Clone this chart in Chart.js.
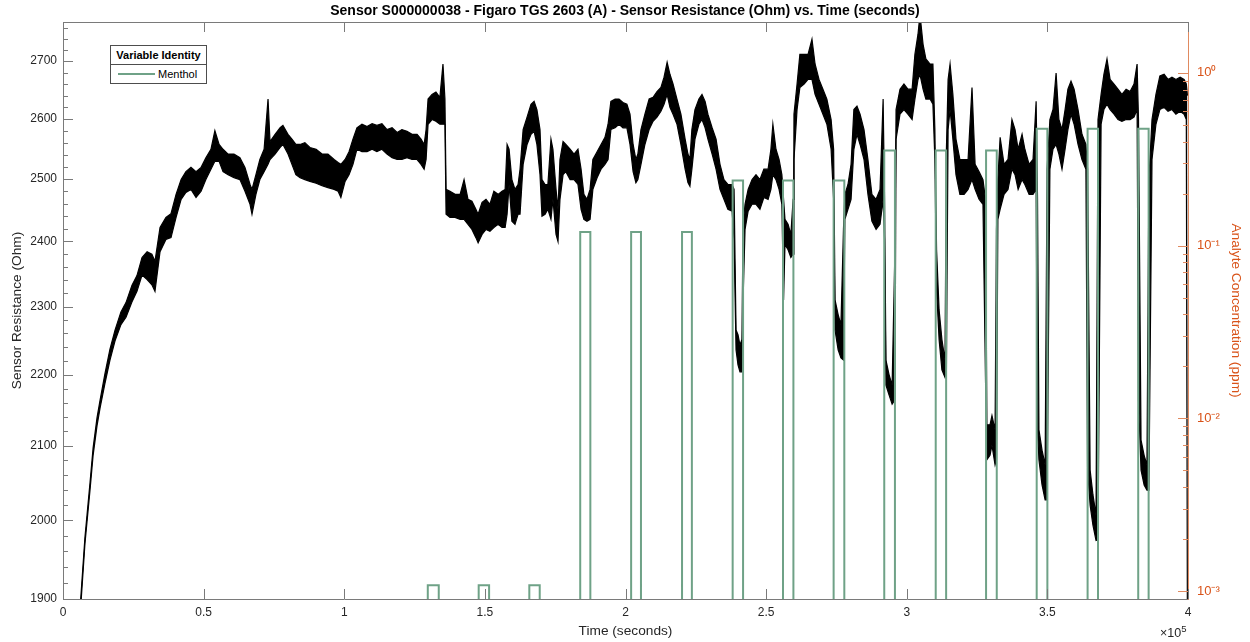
<!DOCTYPE html>
<html>
<head>
<meta charset="utf-8">
<script src="https://cdn.jsdelivr.net/npm/chart.js@4.4.1/dist/chart.umd.min.js"></script>
<style>
  html, body { margin: 0; padding: 0; background: #fff; }
  #wrap { position: relative; width: 1250px; height: 642px; font-family: 'Liberation Sans', Arial, sans-serif; }
  #legend { position: absolute; left: 110px; top: 45px; width: 95px; border: 1px solid #4d4d4d; background: #fff; font-size: 11px; color: #000; }
  #legend .lg-title { font-weight: bold; text-align: center; height: 18px; line-height: 19px; border-bottom: 1px solid #4d4d4d; }
  #legend .lg-row { height: 18px; display: flex; align-items: center; }
  #legend .lg-swatch { display: inline-block; width: 37px; height: 2px; background: #6fa287; margin: 0 3px 0 7px; }
  #xexp { position: absolute; left: 1160px; top: 623px; font-size: 12.5px; color: #262626; }
  #xexp sup { font-size: 9.5px; }
</style>
</head>
<body>
<div id="wrap">
  <canvas id="sensorChart"></canvas>
  <div id="legend">
    <div class="lg-title">Variable Identity</div>
    <div class="lg-row"><span class="lg-swatch"></span><span>Menthol</span></div>
  </div>
  <div id="xexp">&times;10<sup>5</sup></div>
</div>
<script>
// sensor trace: time (s), upper and lower edge of the noisy band (Ohm)
const sampleTime = [
  6200, 7800, 9600, 10700, 12100, 13200, 14900, 16700, 18500, 20600, 22400, 24500, 26300, 28100, 29900, 31600, 32700,
  34500, 36600, 38400, 40200, 42000, 43700, 45500, 47300, 49100, 50800, 52600, 54000, 55500, 56900, 58700, 60800,
  62900, 64700, 66500, 67200, 68600, 70000, 71500, 72900, 73600, 75400, 77200, 78200, 80000, 81400, 82800,
  84300, 86000, 87800, 90000, 92100, 94200, 96400, 97800, 98800, 100300, 101700, 103100, 104500, 106300, 108100,
  109900, 111600, 113400, 115200, 117000, 118800, 120500, 122300, 124100, 125900, 127300, 128400, 129100, 129800,
  131200, 132600, 134000, 135100, 135800, 136200, 137600, 139400, 141200, 142600, 144000, 145400, 146800, 147600,
  149000, 150400, 151800, 153200, 154700, 156100, 157200, 157900, 158600, 159600, 160700, 161800,
  162500, 163600, 165000, 166400, 167500, 168500, 169600, 170300, 171400, 172400, 173500, 174200, 175300, 176000,
  176700, 177800, 178800, 180300, 181700, 183100, 184200, 185200, 186300, 187400, 188400, 189900, 191300, 192700,
  193800, 194800, 196300, 197700, 199100, 200500, 201600, 202700, 203700, 204400, 205500, 206900, 208400, 209800,
  211200, 212600, 213700, 214800, 215800, 216900, 218300, 219700, 221200, 222200, 222900, 223600, 224700, 226100,
  227200, 228300, 229300, 230800, 232200, 233600, 235000, 236400, 237900, 238600, 239300, 240000, 240700, 241400,
  241800, 242500, 243600,
  245000, 246400, 247800, 249200, 250700, 251700, 252400, 253500, 254600, 255600, 256200, 256700, 257800, 258800,
  259600, 259900, 261000, 262000, 263500, 264900, 266300, 267400, 268800, 270200, 271600, 273100, 274000, 274500,
  275600, 276600, 277500, 278000, 279100, 280200, 281200, 282300, 283400, 284800, 286200, 287600, 289100, 290500,
  291600, 292100, 292600, 293700, 294800, 295800, 296200, 297600, 299000, 300400, 301900, 302900, 304000, 304700,
  305800, 306800, 308300, 309300, 310000, 310600, 311500, 312500, 313600, 314100, 314700, 315400, 316400, 317500,
  318900,
  320400, 321800, 323200, 324300, 325700, 327100, 328000, 328500, 329600, 330300, 331400, 331900, 332400, 333200,
  334600, 336000, 337400, 338500, 339600, 341000, 342000, 343500, 344900, 346000, 346500, 347000, 348100, 349200,
  349900, 350900, 352000, 353100, 354100, 355200, 356300, 357300, 358400, 359500, 360900, 362300, 363700, 364300,
  365200, 366200, 367300, 368000, 369100, 370100, 371200, 372300, 373700, 375100, 376500, 378000, 379400, 380800,
  381900, 382400, 383300, 384400, 385400, 386100, 387200, 388600, 390000, 391500, 392900, 394300, 395700, 397200,
  398600, 399400, 399800
];
const resistanceHigh = [
  1895, 1978, 2050, 2097, 2139, 2164, 2201, 2237, 2265, 2292, 2306, 2332, 2347, 2375, 2384, 2380, 2369,
  2422, 2438, 2444, 2475, 2499, 2512, 2519, 2512, 2519, 2535, 2549, 2580, 2557, 2549, 2541, 2541,
  2535, 2519, 2491, 2483, 2507, 2532, 2549, 2634, 2562, 2574, 2585, 2589, 2574, 2566, 2557,
  2557, 2560, 2552, 2549, 2541, 2541, 2532, 2527, 2524, 2532, 2545, 2566, 2585, 2591, 2587,
  2592, 2589, 2592, 2582, 2585, 2577, 2582, 2579, 2574, 2574, 2566, 2557, 2582, 2634,
  2642, 2646, 2637, 2695, 2634, 2483, 2480, 2475, 2475, 2499, 2467, 2464, 2451, 2443,
  2462, 2467, 2459, 2480, 2475, 2480, 2483, 2557, 2549, 2499, 2483, 2491,
  2516, 2582, 2603, 2625, 2630, 2616, 2582, 2499, 2491, 2491, 2566, 2549, 2483, 2451,
  2532, 2562, 2557, 2549, 2541, 2549, 2516, 2475, 2467, 2483, 2532, 2545, 2557, 2569,
  2591, 2630, 2634, 2634, 2628, 2625, 2608, 2557, 2532, 2541, 2582, 2608, 2634, 2637,
  2647, 2654, 2672, 2698, 2677, 2660, 2634, 2608, 2566, 2541, 2532, 2582, 2616, 2634,
  2642, 2630, 2608, 2585, 2566, 2524, 2499, 2491, 2491, 2483, 2265, 2258, 2243, 2251,
  2427, 2459, 2483,
  2499, 2507, 2499, 2516, 2516, 2549, 2591, 2549, 2532, 2507, 2467, 2435, 2427, 2411,
  2467, 2608, 2660, 2712, 2712, 2712, 2739, 2695, 2668, 2651, 2634, 2599, 2549, 2310,
  2288, 2273, 2419, 2475, 2491, 2524, 2616, 2622, 2608, 2582, 2532, 2475, 2467, 2483,
  2634, 2467, 2221, 2200, 2185, 2387, 2616, 2651, 2660, 2651, 2651, 2712, 2748, 2784,
  2730, 2704, 2695, 2695, 2582, 2387, 2295, 2251, 2221, 2549, 2668, 2695, 2642, 2566,
  2532,
  2532, 2532, 2654, 2524, 2512, 2499, 2467, 2129, 2129, 2142, 2122, 2419, 2499, 2569,
  2524, 2532, 2599, 2582, 2549, 2574, 2549, 2524, 2532, 2630, 2467, 2122, 2094, 2074,
  2516, 2599, 2616, 2679, 2599, 2582, 2616, 2651, 2665, 2651, 2616, 2574, 2557, 2516,
  2067, 2034, 2007, 2599, 2642, 2677, 2704, 2668, 2660, 2651, 2642, 2651, 2647, 2660,
  2695, 2599, 2108, 2087, 2074, 2499, 2599, 2642, 2674, 2677, 2668, 2672, 2668, 2672,
  2668, 2660, 2640
];
const resistanceLow = [
  1885, 1970, 2040, 2087, 2128, 2153, 2187, 2221, 2249, 2273, 2284, 2307, 2323, 2348, 2341, 2333, 2323,
  2384, 2403, 2406, 2438, 2467, 2478, 2483, 2470, 2480, 2499, 2516, 2529, 2529, 2512, 2507, 2502,
  2499, 2480, 2459, 2443, 2475, 2499, 2512, 2524, 2532, 2541, 2552, 2557, 2541, 2524, 2507,
  2502, 2499, 2496, 2493, 2489, 2486, 2483, 2480, 2470, 2496, 2507, 2524, 2549, 2545, 2545,
  2549, 2545, 2549, 2541, 2535, 2532, 2532, 2535, 2532, 2532, 2524, 2516, 2532, 2591,
  2599, 2596, 2591, 2591, 2591, 2443, 2438, 2438, 2435, 2435, 2427, 2419, 2406, 2398,
  2411, 2419, 2416, 2422, 2427, 2422, 2422, 2443, 2491, 2432, 2427, 2443,
  2443, 2524, 2557, 2574, 2579, 2557, 2507, 2440, 2443, 2451, 2435, 2467, 2411, 2400,
  2467, 2507, 2512, 2499, 2499, 2491, 2451, 2435, 2432, 2435, 2483, 2502, 2516, 2524,
  2532, 2582, 2585, 2591, 2585, 2585, 2557, 2512, 2494, 2499, 2524, 2557, 2582, 2596,
  2603, 2613, 2625, 2642, 2620, 2608, 2591, 2557, 2516, 2494, 2488, 2516, 2566, 2591,
  2599, 2585, 2566, 2541, 2516, 2483, 2467, 2451, 2448, 2403, 2236, 2214, 2204, 2204,
  2310, 2419, 2448,
  2459, 2459, 2451, 2470, 2467, 2483, 2507, 2499, 2483, 2459, 2310, 2395, 2387, 2375,
  2380, 2532, 2616, 2654, 2660, 2668, 2668, 2642, 2625, 2608, 2591, 2549, 2467, 2265,
  2236, 2224, 2221, 2435, 2451, 2467, 2549, 2574, 2557, 2532, 2475, 2432, 2419, 2427,
  2467, 2403, 2185, 2171, 2158, 2164, 2566, 2608, 2616, 2608, 2599, 2634, 2668, 2677,
  2651, 2634, 2634, 2625, 2532, 2326, 2251, 2207, 2196, 2207, 2582, 2616, 2566, 2507,
  2475,
  2475, 2483, 2499, 2483, 2467, 2459, 2193, 2081, 2087, 2101, 2074, 2081, 2435, 2451,
  2475, 2483, 2516, 2507, 2483, 2499, 2491, 2475, 2475, 2483, 2122, 2081, 2047, 2027,
  2027, 2516, 2549, 2557, 2541, 2516, 2549, 2582, 2608, 2591, 2557, 2532, 2516, 2067,
  2020, 1994, 1974, 1975, 2591, 2616, 2625, 2616, 2608, 2599, 2596, 2599, 2599, 2603,
  2616, 2164, 2067, 2047, 2040, 2040, 2532, 2591, 2616, 2620, 2613, 2616, 2608, 2613,
  2608, 2599, 1850
];

// menthol exposure steps (s, ppm)
const pulseStart = [129700, 147800, 165800, 183900, 202000, 220100, 238100, 256000, 274000, 292000, 310300, 328200, 346200, 364300, 382300];
const pulseEnd   = [133600, 151500, 169500, 187500, 205500, 223600, 241800, 259700, 277800, 295800, 314000, 332000, 350000, 368000, 386000];
const pulseLevel = [0.00108, 0.00108, 0.00108, 0.12, 0.12, 0.12, 0.238, 0.238, 0.238, 0.355, 0.355, 0.355, 0.474, 0.474, 0.474];
const pulseBase = 0.0005; // zero concentration sits below the log axis floor

// axis ticks
const xTicks = [0, 50000, 100000, 150000, 200000, 250000, 300000, 350000, 400000];
const leftTicks = [1900, 2000, 2100, 2200, 2300, 2400, 2500, 2600, 2700];
const rightTicks = [0.001, 0.01, 0.1, 1];
const rightTickLabels = ['10\u207B\u00B3', '10\u207B\u00B2', '10\u207B\u00B9', '10\u2070'];

const leftMin = 1900, leftMax = 2770;
const rightMin = 0.0009, rightMax = 1.97;

const green = '#6fa287';
const orange = '#D95319';
const orangeLine = '#e08a60';
const axisGray = '#7a7a7a';
const textGray = '#262626';

// minor ticks (20 Ohm steps on the left, 2..9 per decade on the right)
const leftMinor = [];
for (let v = 1920; v <= 2760; v += 20) if (v % 100 !== 0) leftMinor.push(v);
const rightMinor = [];
[0.001, 0.01, 0.1].forEach(d => { for (let m = 2; m <= 9; m++) rightMinor.push(m * d); });

// build datasets
const upperPts = sampleTime.map((t, i) => ({ x: t, y: resistanceHigh[i] }));
const lowerPts = sampleTime.map((t, i) => ({ x: t, y: resistanceLow[i] }));

const pulsePts = [{ x: 0, y: pulseBase }];
pulseStart.forEach((s, i) => {
  pulsePts.push({ x: s, y: pulseBase }, { x: s, y: pulseLevel[i] }, { x: pulseEnd[i], y: pulseLevel[i] }, { x: pulseEnd[i], y: pulseBase });
});
pulsePts.push({ x: 400000, y: pulseBase });

// MATLAB style inward tick marks + top box line
const inwardTicks = {
  id: 'inwardTicks',
  afterDatasetsDraw(chart) {
    const { ctx, chartArea: a, scales } = chart;
    ctx.save();
    ctx.lineWidth = 1;
    ctx.strokeStyle = axisGray;
    ctx.beginPath();
    ctx.moveTo(a.left, a.top + 0.5);
    ctx.lineTo(a.right, a.top + 0.5);
    xTicks.forEach(v => {
      const px = Math.round(scales.x.getPixelForValue(v)) + 0.5;
      ctx.moveTo(px, a.bottom); ctx.lineTo(px, a.bottom - 10);
      ctx.moveTo(px, a.top); ctx.lineTo(px, a.top + 10);
    });
    leftTicks.forEach(v => {
      const py = Math.round(scales.y.getPixelForValue(v)) + 0.5;
      ctx.moveTo(a.left, py); ctx.lineTo(a.left + 10, py);
    });
    leftMinor.forEach(v => {
      const py = Math.round(scales.y.getPixelForValue(v)) + 0.5;
      ctx.moveTo(a.left, py); ctx.lineTo(a.left + 5, py);
    });
    ctx.stroke();

    ctx.strokeStyle = orangeLine;
    ctx.beginPath();
    rightTicks.forEach(v => {
      const py = Math.round(scales.yRight.getPixelForValue(v)) + 0.5;
      ctx.moveTo(a.right, py); ctx.lineTo(a.right - 10, py);
    });
    rightMinor.forEach(v => {
      const py = Math.round(scales.yRight.getPixelForValue(v)) + 0.5;
      ctx.moveTo(a.right, py); ctx.lineTo(a.right - 5, py);
    });
    ctx.stroke();
    ctx.restore();
  }
};

Chart.defaults.font.family = "'Liberation Sans', Arial, Helvetica, sans-serif";
Chart.defaults.color = textGray;

new Chart(document.getElementById('sensorChart'), {
  type: 'line',
  data: {
    datasets: [
      {
        label: 'Menthol',
        data: pulsePts,
        yAxisID: 'yRight',
        borderColor: green,
        borderWidth: 2,
        pointRadius: 0,
        fill: false,
        tension: 0
      },
      {
        label: 'resistance upper',
        data: upperPts,
        yAxisID: 'y',
        borderColor: '#000',
        borderWidth: 1.2,
        pointRadius: 0,
        fill: false,
        tension: 0
      },
      {
        label: 'resistance lower',
        data: lowerPts,
        yAxisID: 'y',
        borderColor: '#000',
        backgroundColor: '#000',
        borderWidth: 1.2,
        pointRadius: 0,
        fill: '-1',
        tension: 0
      }
    ]
  },
  options: {
    responsive: true,
    maintainAspectRatio: false,
    animation: false,
    layout: { padding: 0 },
    plugins: {
      legend: { display: false }, // legend box is an html overlay
      tooltip: { enabled: false },
      title: {
        display: true,
        text: 'Sensor S000000038 - Figaro TGS 2603 (A) - Sensor Resistance (Ohm) vs. Time (seconds)',
        color: '#000',
        font: { size: 14, weight: 'bold' },
        padding: { top: 2.6, bottom: 2.6 }
      }
    },
    scales: {
      x: {
        type: 'linear',
        min: 0,
        max: 400000,
        afterBuildTicks: (s) => { s.ticks = xTicks.map(v => ({ value: v })); },
        afterFit: (s) => { s.height = 43; },
        grid: { drawOnChartArea: false, drawTicks: false },
        border: { display: true, color: axisGray, width: 1 },
        ticks: {
          autoSkip: false, maxRotation: 0, padding: 6,
          font: { size: 12 }, color: textGray,
          callback: (v) => String(v / 100000)
        },
        title: { display: true, text: 'Time (seconds)', font: { size: 13.7 }, color: textGray, padding: { top: 0, bottom: 3 } }
      },
      y: {
        type: 'logarithmic',
        position: 'left',
        min: leftMin,
        max: leftMax,
        afterBuildTicks: (s) => { s.ticks = leftTicks.map(v => ({ value: v })); },
        afterFit: (s) => { s.width = 63; },
        grid: { drawOnChartArea: false, drawTicks: false },
        border: { display: true, color: axisGray, width: 1 },
        ticks: { autoSkip: false, padding: 6, font: { size: 12 }, color: textGray, callback: (v) => String(v) },
        title: { display: true, text: 'Sensor Resistance (Ohm)', font: { size: 13.7 }, color: textGray, padding: { top: 9, bottom: 0 } }
      },
      yRight: {
        type: 'logarithmic',
        position: 'right',
        min: rightMin,
        max: rightMax,
        afterBuildTicks: (s) => { s.ticks = rightTicks.map(v => ({ value: v })); },
        afterFit: (s) => { s.width = 62; },
        grid: { drawOnChartArea: false, drawTicks: false },
        border: { display: true, color: orangeLine, width: 1 },
        ticks: {
          autoSkip: false, padding: 9, font: { size: 13 }, color: orange,
          callback: (v) => {
            const i = rightTicks.findIndex(r => Math.abs(r - v) / r < 1e-6);
            return i >= 0 ? rightTickLabels[i] : '';
          }
        },
        title: { display: true, text: 'Analyte Concentration (ppm)', font: { size: 13.7 }, color: orange, padding: { top: 6, bottom: 0 } }
      }
    }
  },
  plugins: [inwardTicks]
});
</script>
</body>
</html>
